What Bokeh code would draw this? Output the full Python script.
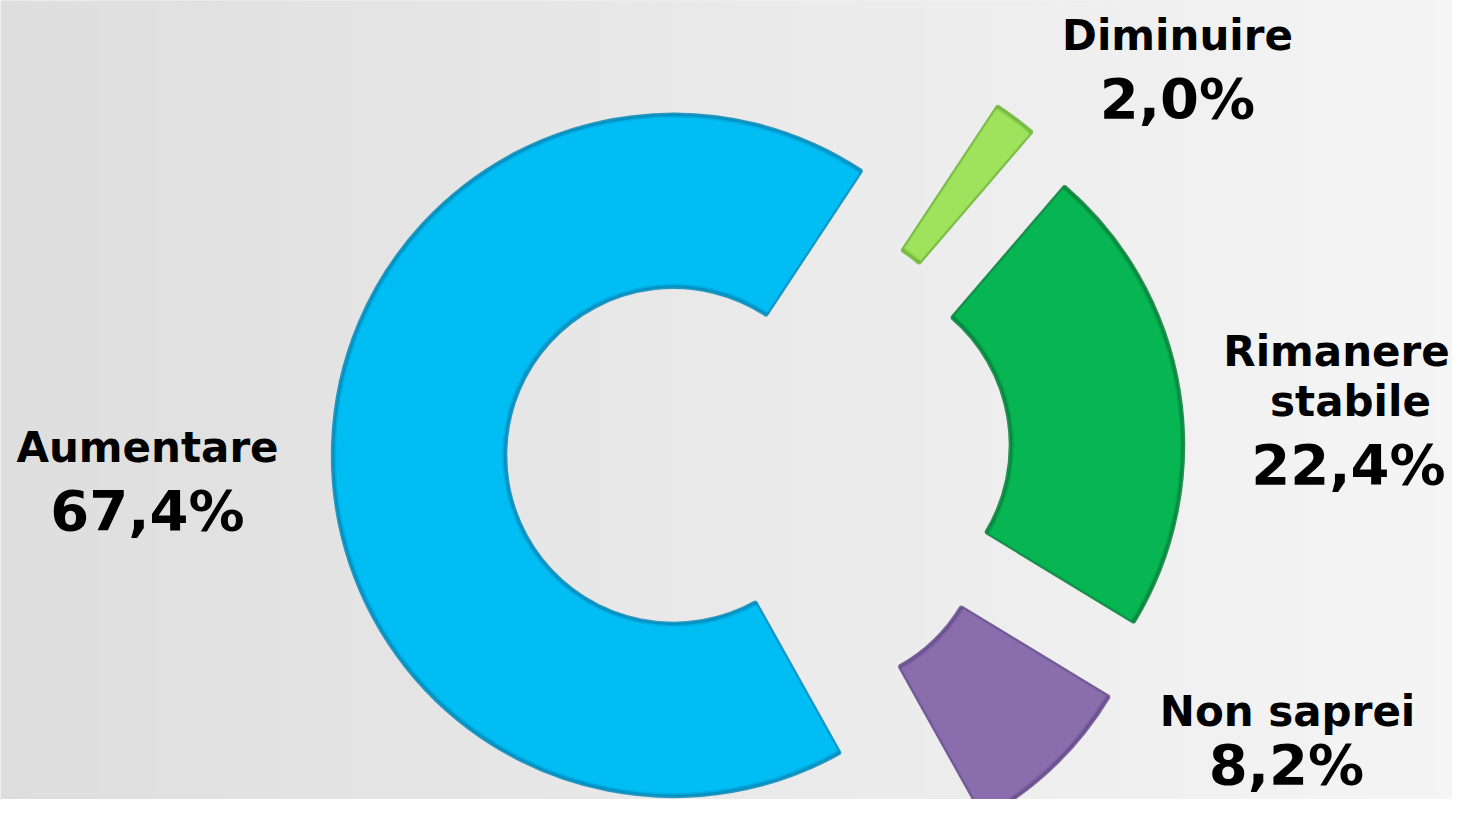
import numpy as np
from bokeh.plotting import figure
from bokeh.models import Range1d, ColumnDataSource
from bokeh.core.properties import value
from bokeh.embed import file_html
from bokeh.resources import INLINE

# ---------------- data ----------------
categories = ["Aumentare", "Diminuire", "Rimanere stabile", "Non saprei"]
percents = [67.4, 2.0, 22.4, 8.2]
value_labels = ["67,4%", "2,0%", "22,4%", "8,2%"]
name_lines = [["Aumentare"], ["Diminuire"], ["Rimanere", "stabile"], ["Non saprei"]]
colors = ["#00BDF4", "#9FE35C", "#07B652", "#8A6DAD"]
edge_colors = ["#0088B8", "#6CB436", "#037F38", "#62498A"]

# ---------------- layout ----------------
PW, PH = 1452, 799        # plot size in px
H = 815                   # reference height, y downward in reference px
START = 150.8             # first slice start, degrees clockwise from 12 o'clock
CX, CY = 758, 458         # pie centre (reference px)
R_OUT, R_IN, EXPLODE = 341, 168, 85
TEXT_DY = -16             # compensation for svg text baseline placement
# label anchors: ([name x per line], [baselines of name lines], value x, value baseline)
label_layout = [
    ([147], [463], 147, 526),
    ([1177], [51], 1177, 114),
    ([1336, 1350], [367, 417], 1348, 480),
    ([1287], [727], 1286, 780),
]

p = figure(width=PW, height=PH, output_backend="svg", toolbar_location=None,
           x_range=Range1d(0, PW), y_range=Range1d(H - PH, H),
           min_border=0, outline_line_color=None)
p.axis.visible = False
p.grid.visible = False
p.background_fill_color = "#EAEAEA"
p.border_fill_color = "#EAEAEA"

# background horizontal gradient
n = 240
xs = np.linspace(0, PW, n + 1)
c0, c1 = 0xDE, 0xF5
bg_cols = []
for i in range(n):
    t = (0.5 * (xs[i] + xs[i + 1])) / 1468.0
    v = int(round(c0 + (c1 - c0) * t))
    bg_cols.append("#%02x%02x%02x" % (v, v, v))
p.quad(left=xs[:-1], right=xs[1:] + 0.5, bottom=0, top=H + 5, fill_color=bg_cols, line_color=None)

# slices
frac = np.array(percents) / sum(percents)
th_end = START + np.cumsum(frac) * 360.0
th_start = th_end - frac * 360.0
th_mid = 0.5 * (th_start + th_end)
cx = CX + EXPLODE * np.sin(np.radians(th_mid))
cy = (H - CY) + EXPLODE * np.cos(np.radians(th_mid))
# convert clockwise-from-top to math angles (anticlockwise from +x)
a_start = np.radians(90.0 - th_end)
a_end = np.radians(90.0 - th_start)

src = ColumnDataSource(dict(x=cx, y=cy, a0=a_start, a1=a_end,
                            fill=colors, edge=edge_colors, cat=categories))
# dark rim (bevel edge)
p.annular_wedge(x="x", y="y", inner_radius=R_IN, outer_radius=R_OUT,
                start_angle="a0", end_angle="a1", direction="anticlock",
                fill_color="fill", line_color="edge", line_width=3.5, line_alpha=0.85,
                source=src)
# softer inner rim
p.annular_wedge(x="x", y="y", inner_radius=R_IN + 2.5, outer_radius=R_OUT - 2.5,
                start_angle="a0", end_angle="a1", direction="anticlock",
                fill_color="fill", line_color="edge", line_width=2, line_alpha=0.3,
                source=src)
# flat body
p.annular_wedge(x="x", y="y", inner_radius=R_IN + 5, outer_radius=R_OUT - 5,
                start_angle=a_start + np.radians(0.8), end_angle=a_end - np.radians(0.8),
                direction="anticlock", fill_color=colors, line_color=None)

# labels
tx, ty, tt, ts = [], [], [], []
for (nxs, nbs, vx, vb), lines, vl in zip(label_layout, name_lines, value_labels):
    for ln, nx, b in zip(lines, nxs, nbs):
        tx.append(nx); ty.append(H - (b + TEXT_DY)); tt.append(ln); ts.append("42px")
    tx.append(vx); ty.append(H - (vb + TEXT_DY)); tt.append(vl); ts.append("56px")

lab = ColumnDataSource(dict(x=tx, y=ty, t=tt, s=ts))
p.text(x="x", y="y", text="t", source=lab, text_font=value("DejaVu Sans"),
       text_font_style="bold", text_font_size="s", text_align="center",
       text_baseline="alphabetic", text_color="#000000")

open("out.html", "w").write(file_html(p, INLINE))
